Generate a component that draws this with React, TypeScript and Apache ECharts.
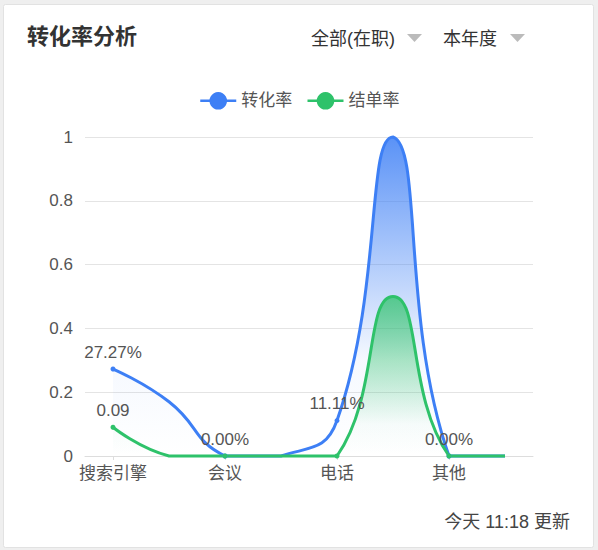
import React, { useEffect, useRef } from "react";
import * as echarts from "echarts";

// categories: only every other one has a readable label
const categories = ["搜索引擎", "", "会议", "", "电话", "", "其他", ""];
const conversionRate = [0.2727, 0.17, 0, 0, 0.1111, 1, 0, 0];
const closingRate = [0.09, 0, 0, 0, 0, 0.5, 0, 0];
const yTicks = { min: 0, max: 1, interval: 0.2 };

const BLUE = "#3D7FF5";
const GREEN = "#2EC26A";
const FONT = "'Liberation Sans', 'Noto Sans CJK SC', sans-serif";

// old-style smoothing: control points clamped to the points' bounding box,
// which gives the sharp turns at the foot of each peak
const smoothPath = (pts: number[][], smooth: number) => {
  const ys = pts.map((p) => p[1]);
  const xs = pts.map((p) => p[0]);
  const min = [Math.min(...xs), Math.min(...ys)];
  const max = [Math.max(...xs), Math.max(...ys)];
  const clamp = (p: number[]) => [
    Math.min(Math.max(p[0], min[0]), max[0]),
    Math.min(Math.max(p[1], min[1]), max[1]),
  ];
  let d = `M${pts[0][0]},${pts[0][1]}`;
  let cp0 = pts[0].slice();
  for (let i = 1; i < pts.length; i++) {
    const p = pts[i];
    const prev = pts[i - 1];
    let cp1 = p.slice();
    let v = [0, 0];
    let ratio = 0.5;
    if (i < pts.length - 1) {
      const next = pts[i + 1];
      v = [next[0] - prev[0], next[1] - prev[1]];
      const lp = Math.hypot(p[0] - prev[0], p[1] - prev[1]);
      const ln = Math.hypot(next[0] - p[0], next[1] - p[1]);
      ratio = ln / (ln + lp);
      cp1 = [p[0] - v[0] * smooth * (1 - ratio), p[1] - v[1] * smooth * (1 - ratio)];
    }
    const a = clamp(cp0);
    const b = clamp(cp1);
    d += ` C${a[0]},${a[1]} ${b[0]},${b[1]} ${p[0]},${p[1]}`;
    cp0 = [p[0] + v[0] * smooth * ratio, p[1] + v[1] * smooth * ratio];
  }
  return d;
};

const curveSeries = (values: number[], color: string, gradient: any) => ({
  type: "custom",
  name: "curve",
  silent: true,
  data: values.map((v, i) => [i, v]),
  encode: { x: 0, y: 1 },
  renderItem: (params: any, api: any) => {
    if (params.dataIndex !== 0) return null;
    const pts = values.map((v, i) => api.coord([i, v]));
    const base = api.coord([0, 0])[1];
    const line = smoothPath(pts, 0.5);
    const last = pts[pts.length - 1];
    return {
      type: "group",
      children: [
        {
          type: "path",
          shape: { pathData: `${line} L${last[0]},${base} L${pts[0][0]},${base} Z` },
          style: { fill: gradient, stroke: "none" },
        },
        {
          type: "path",
          shape: { pathData: line },
          style: { fill: "none", stroke: color, lineWidth: 3 },
        },
      ],
    };
  },
});

const App = () => {
  const chartRef = useRef<HTMLDivElement>(null);

  useEffect(() => {
    document.body.style.margin = "0";
    if (!chartRef.current) return;
    const chart = echarts.init(chartRef.current, undefined, { renderer: "svg" });

    const blueFill = new echarts.graphic.LinearGradient(0, 0, 0, 1, [
      { offset: 0, color: "rgba(61,127,245,0.85)" },
      { offset: 0.7, color: "rgba(61,127,245,0.05)" },
      { offset: 1, color: "rgba(61,127,245,0)" },
    ]);
    const greenFill = new echarts.graphic.LinearGradient(0, 0, 0, 1, [
      { offset: 0, color: "rgba(46,194,106,0.75)" },
      { offset: 0.8, color: "rgba(46,194,106,0.03)" },
      { offset: 1, color: "rgba(46,194,106,0)" },
    ]);

    const option = {
      animation: false,
      backgroundColor: "#efefef",
      textStyle: { fontFamily: FONT },
      graphic: [
        {
          type: "rect",
          z: -10,
          shape: { x: 3.5, y: 4.5, width: 590, height: 543, r: 2 },
          style: { fill: "#fff", stroke: "#e2e2e2", lineWidth: 1 },
        },
        {
          type: "text",
          left: 27,
          top: 25,
          style: { text: "转化率分析", fill: "#333", font: `bold 22px ${FONT}` },
        },
        {
          type: "text",
          left: 311,
          top: 30,
          style: { text: "全部(在职)", fill: "#333", font: `18px ${FONT}` },
        },
        {
          type: "polygon",
          shape: { points: [[407, 34], [422, 34], [414.5, 42]] },
          style: { fill: "#bbb" },
        },
        {
          type: "text",
          left: 443,
          top: 30,
          style: { text: "本年度", fill: "#333", font: `18px ${FONT}` },
        },
        {
          type: "polygon",
          shape: { points: [[510, 34], [525, 34], [517.5, 42]] },
          style: { fill: "#bbb" },
        },
        {
          type: "text",
          right: 28,
          top: 513,
          style: { text: "今天 11:18 更新", fill: "#444", font: `18px ${FONT}` },
        },
      ],
      legend: {
        top: 87,
        left: 194,
        itemWidth: 36,
        itemHeight: 22,
        itemGap: 14,
        lineStyle: { opacity: 1, width: 2.5 },
        textStyle: { color: "#555", fontSize: 17 },
        data: ["转化率", "结单率"],
      },
      grid: { left: 85, right: 65, top: 137, bottom: 94 },
      xAxis: {
        type: "category",
        data: categories,
        axisLine: { lineStyle: { color: "#ddd" } },
        axisTick: { show: true, alignWithLabel: true, interval: 1, length: 4, lineStyle: { color: "#ddd" } },
        axisLabel: { interval: 1, color: "#555", fontSize: 17, margin: 9 },
      },
      yAxis: {
        type: "value",
        ...yTicks,
        axisLine: { show: false },
        axisTick: { show: false },
        axisLabel: { color: "#555", fontSize: 17, margin: 12 },
        splitLine: { lineStyle: { color: "#e4e4e4" } },
      },
      series: [
        curveSeries(conversionRate, BLUE, blueFill),
        curveSeries(closingRate, GREEN, greenFill),
        {
          name: "转化率",
          type: "line",
          symbol: "circle",
          symbolSize: (_v: number, p: any) => (p.dataIndex % 2 === 0 ? 5 : 0),
          color: BLUE,
          lineStyle: { width: 3, color: BLUE, opacity: 0 },
          label: {
            show: true,
            position: "top",
            distance: 6,
            color: "#555",
            fontSize: 17,
            formatter: (p: any) =>
              p.dataIndex % 2 === 0 ? `${(p.value * 100).toFixed(2)}%` : "",
          },
          data: conversionRate,
        },
        {
          name: "结单率",
          type: "line",
          symbol: "circle",
          symbolSize: (_v: number, p: any) => (p.dataIndex % 2 === 0 ? 5 : 0),
          color: GREEN,
          lineStyle: { width: 3, color: GREEN, opacity: 0 },
          label: {
            show: true,
            position: "top",
            distance: 6,
            color: "#555",
            fontSize: 17,
            formatter: (p: any) => (p.dataIndex === 0 ? `${p.value}` : ""),
          },
          data: closingRate,
        },
      ],
    };

    chart.setOption(option);

    return () => {
      chart.dispose();
    };
  }, []);

  return <div ref={chartRef} style={{ width: 598, height: 550 }}></div>;
};

export default App;
